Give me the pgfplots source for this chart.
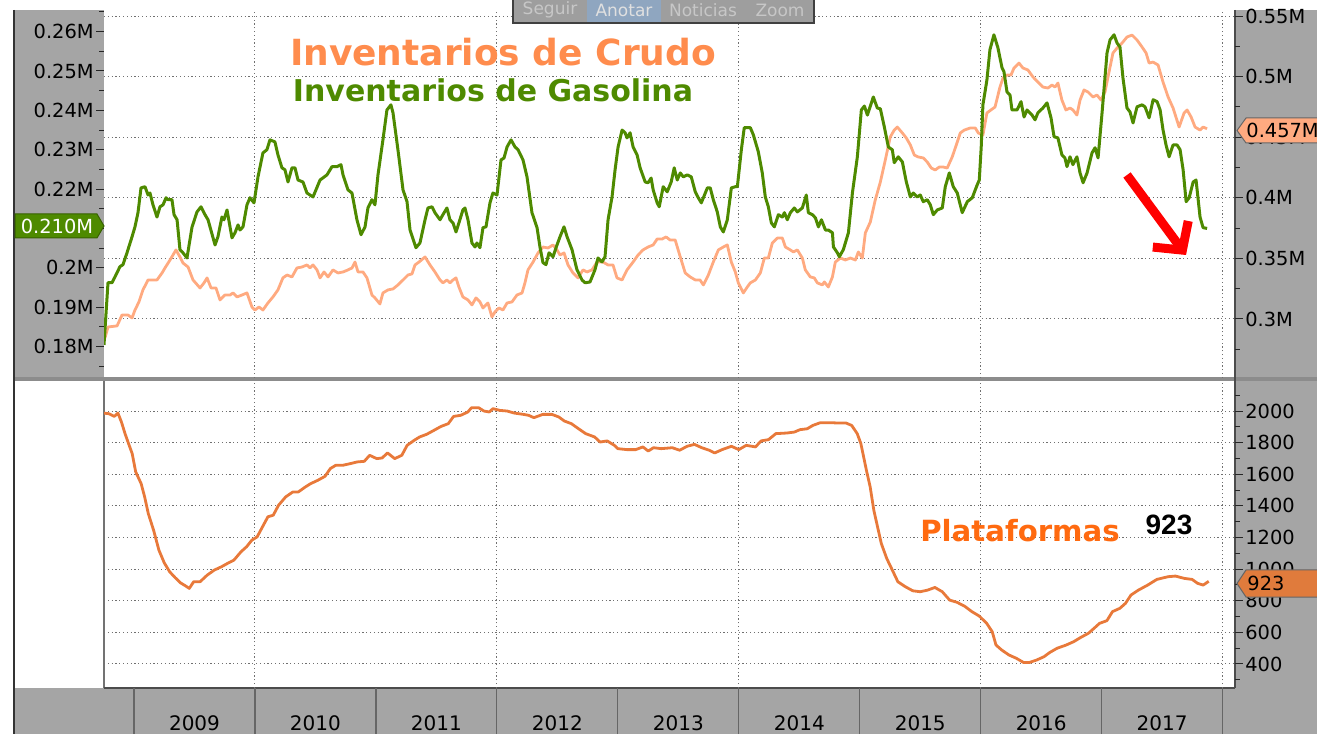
\documentclass[border=0pt]{standalone}
\usepackage{pgfplots}
\usepackage{pgfplotstable}
\pgfplotsset{compat=1.18}
\usepackage{fontspec}
\setmainfont{DejaVu Sans}
\newfontfamily\libsans{Liberation Sans}
\usetikzlibrary{arrows.meta}
\definecolor{bandgray}{HTML}{A5A5A5}
\definecolor{gasgreen}{HTML}{4E8A00}
\definecolor{crudeor}{HTML}{FFAA80}
\definecolor{rigor}{HTML}{E8793A}
\definecolor{titleor}{HTML}{FF8C4D}
\definecolor{platcol}{HTML}{FF6A10}
\definecolor{gridc}{HTML}{707070}
\definecolor{boxrig}{HTML}{E07B3C}
\definecolor{toolblue}{HTML}{8FA6C0}

\pgfplotstableread{
year v
2008.752 0.1804
2008.785 0.1962
2008.818 0.1962
2008.843 0.1977
2008.884 0.2003
2008.909 0.2008
2008.942 0.2038
2008.984 0.2079
2009.008 0.2104
2009.033 0.2140
2009.058 0.2203
2009.091 0.2206
2009.116 0.2185
2009.132 0.2190
2009.157 0.2160
2009.190 0.2129
2009.215 0.2155
2009.240 0.2160
2009.265 0.2178
2009.281 0.2173
2009.314 0.2173
2009.331 0.2135
2009.356 0.2122
2009.380 0.2046
2009.405 0.2038
2009.438 0.2025
2009.480 0.2104
2009.521 0.2142
2009.554 0.2155
2009.587 0.2135
2009.612 0.2122
2009.670 0.2058
2009.694 0.2079
2009.727 0.2129
2009.744 0.2122
2009.769 0.2147
2009.810 0.2076
2009.835 0.2089
2009.860 0.2109
2009.876 0.2096
2009.901 0.2104
2009.934 0.2160
2009.959 0.2178
2009.992 0.2165
2010.025 0.2231
2010.066 0.2292
2010.099 0.2300
2010.124 0.2325
2010.165 0.2320
2010.190 0.2287
2010.223 0.2254
2010.248 0.2249
2010.273 0.2218
2010.306 0.2254
2010.331 0.2254
2010.356 0.2223
2010.397 0.2218
2010.430 0.2190
2010.480 0.2180
2010.538 0.2223
2010.595 0.2236
2010.637 0.2257
2010.678 0.2257
2010.711 0.2262
2010.728 0.2236
2010.769 0.2198
2010.802 0.2190
2010.843 0.2122
2010.877 0.2084
2010.910 0.2104
2010.934 0.2152
2010.967 0.2173
2010.992 0.2160
2011.017 0.2236
2011.058 0.2325
2011.091 0.2401
2011.124 0.2414
2011.141 0.2394
2011.182 0.2300
2011.224 0.2198
2011.257 0.2168
2011.282 0.2096
2011.331 0.2051
2011.364 0.2063
2011.406 0.2122
2011.430 0.2152
2011.464 0.2155
2011.488 0.2140
2011.530 0.2122
2011.554 0.2135
2011.587 0.2152
2011.612 0.2122
2011.637 0.2114
2011.662 0.2091
2011.686 0.2114
2011.719 0.2147
2011.736 0.2152
2011.761 0.2122
2011.794 0.2063
2011.819 0.2053
2011.835 0.2063
2011.860 0.2051
2011.885 0.2102
2011.910 0.2104
2011.943 0.2165
2011.967 0.2190
2012.001 0.2185
2012.034 0.2274
2012.059 0.2279
2012.084 0.2307
2012.117 0.2325
2012.150 0.2307
2012.175 0.2300
2012.216 0.2274
2012.249 0.2231
2012.290 0.2140
2012.332 0.2102
2012.356 0.2053
2012.381 0.2013
2012.406 0.2008
2012.431 0.2038
2012.464 0.2028
2012.497 0.2058
2012.522 0.2079
2012.555 0.2104
2012.580 0.2079
2012.621 0.2046
2012.662 0.1995
2012.704 0.1969
2012.729 0.1962
2012.770 0.1964
2012.811 0.1995
2012.836 0.2025
2012.869 0.2015
2012.894 0.2028
2012.919 0.2122
2012.952 0.2180
2012.977 0.2249
2013.002 0.2307
2013.035 0.2350
2013.060 0.2343
2013.076 0.2330
2013.101 0.2343
2013.126 0.2307
2013.159 0.2287
2013.184 0.2254
2013.226 0.2218
2013.250 0.2216
2013.275 0.2228
2013.292 0.2198
2013.325 0.2165
2013.342 0.2155
2013.375 0.2206
2013.408 0.2193
2013.441 0.2218
2013.466 0.2254
2013.491 0.2223
2013.516 0.2241
2013.541 0.2231
2013.574 0.2236
2013.607 0.2231
2013.640 0.2193
2013.665 0.2178
2013.690 0.2165
2013.707 0.2178
2013.740 0.2203
2013.764 0.2203
2013.789 0.2173
2013.822 0.2142
2013.847 0.2104
2013.872 0.2091
2013.905 0.2122
2013.938 0.2203
2013.971 0.2206
2013.988 0.2206
2014.021 0.2300
2014.045 0.2356
2014.095 0.2356
2014.120 0.2338
2014.161 0.2295
2014.194 0.2241
2014.219 0.2180
2014.244 0.2155
2014.269 0.2114
2014.294 0.2104
2014.327 0.2135
2014.360 0.2129
2014.377 0.2140
2014.401 0.2122
2014.426 0.2140
2014.459 0.2152
2014.484 0.2142
2014.525 0.2152
2014.558 0.2185
2014.575 0.2140
2014.608 0.2135
2014.633 0.2127
2014.658 0.2104
2014.683 0.2122
2014.716 0.2096
2014.740 0.2096
2014.774 0.2089
2014.782 0.2053
2014.815 0.2038
2014.831 0.2028
2014.864 0.2046
2014.906 0.2089
2014.939 0.2190
2014.980 0.2282
2015.013 0.2401
2015.038 0.2411
2015.063 0.2388
2015.096 0.2419
2015.112 0.2434
2015.145 0.2406
2015.170 0.2404
2015.203 0.2358
2015.236 0.2307
2015.269 0.2300
2015.285 0.2267
2015.318 0.2282
2015.352 0.2269
2015.385 0.2218
2015.418 0.2180
2015.442 0.2190
2015.475 0.2180
2015.500 0.2185
2015.525 0.2168
2015.558 0.2173
2015.583 0.2160
2015.608 0.2135
2015.641 0.2147
2015.682 0.2152
2015.707 0.2206
2015.740 0.2241
2015.773 0.2206
2015.806 0.2190
2015.847 0.2140
2015.889 0.2168
2015.930 0.2178
2015.971 0.2211
2015.988 0.2223
2016.004 0.2307
2016.018 0.2414
2016.051 0.2477
2016.076 0.2554
2016.109 0.2592
2016.142 0.2559
2016.176 0.2508
2016.192 0.2498
2016.217 0.2447
2016.242 0.2439
2016.258 0.2401
2016.300 0.2401
2016.333 0.2422
2016.358 0.2383
2016.383 0.2401
2016.424 0.2388
2016.449 0.2376
2016.473 0.2394
2016.514 0.2406
2016.548 0.2419
2016.581 0.2381
2016.606 0.2333
2016.638 0.2330
2016.671 0.2287
2016.696 0.2279
2016.713 0.2257
2016.738 0.2282
2016.762 0.2262
2016.795 0.2282
2016.821 0.2241
2016.846 0.2216
2016.879 0.2241
2016.920 0.2292
2016.945 0.2305
2016.970 0.2279
2017.003 0.2394
2017.044 0.2546
2017.069 0.2579
2017.102 0.2592
2017.127 0.2571
2017.151 0.2561
2017.176 0.2482
2017.209 0.2406
2017.234 0.2396
2017.259 0.2368
2017.292 0.2409
2017.334 0.2414
2017.358 0.2409
2017.392 0.2381
2017.425 0.2427
2017.458 0.2422
2017.483 0.2401
2017.507 0.2350
2017.532 0.2312
2017.557 0.2282
2017.590 0.2312
2017.623 0.2312
2017.648 0.2300
2017.673 0.2249
2017.698 0.2168
2017.723 0.2178
2017.756 0.2218
2017.780 0.2223
2017.813 0.2129
2017.838 0.2102
2017.871 0.2100
}\gasoline

\pgfplotstableread{
year v
2008.760 0.2843
2008.785 0.2934
2008.860 0.2943
2008.901 0.3033
2008.950 0.3033
2008.984 0.3009
2009.008 0.3074
2009.041 0.3141
2009.074 0.3240
2009.116 0.3322
2009.190 0.3322
2009.232 0.3380
2009.256 0.3421
2009.298 0.3487
2009.347 0.3570
2009.380 0.3512
2009.405 0.3462
2009.447 0.3429
2009.488 0.3322
2009.546 0.3256
2009.579 0.3298
2009.604 0.3339
2009.637 0.3256
2009.678 0.3256
2009.711 0.3157
2009.752 0.3198
2009.794 0.3198
2009.819 0.3215
2009.852 0.3182
2009.893 0.3198
2009.934 0.3215
2009.975 0.3099
2010.000 0.3074
2010.033 0.3099
2010.066 0.3074
2010.107 0.3132
2010.149 0.3182
2010.190 0.3240
2010.231 0.3339
2010.265 0.3363
2010.306 0.3347
2010.347 0.3421
2010.389 0.3429
2010.430 0.3446
2010.455 0.3421
2010.480 0.3446
2010.513 0.3405
2010.538 0.3339
2010.571 0.3388
2010.604 0.3347
2010.645 0.3405
2010.686 0.3380
2010.728 0.3388
2010.769 0.3405
2010.802 0.3421
2010.827 0.3470
2010.852 0.3388
2010.893 0.3388
2010.926 0.3339
2010.967 0.3198
2010.992 0.3174
2011.033 0.3124
2011.058 0.3215
2011.100 0.3240
2011.141 0.3248
2011.182 0.3281
2011.224 0.3322
2011.265 0.3363
2011.298 0.3372
2011.323 0.3446
2011.356 0.3470
2011.406 0.3512
2011.447 0.3446
2011.488 0.3388
2011.530 0.3322
2011.554 0.3298
2011.587 0.3322
2011.612 0.3298
2011.637 0.3322
2011.662 0.3339
2011.686 0.3264
2011.719 0.3182
2011.761 0.3157
2011.794 0.3116
2011.827 0.3174
2011.860 0.3141
2011.885 0.3091
2011.926 0.3132
2011.959 0.3017
2011.984 0.3058
2012.017 0.3091
2012.050 0.3074
2012.084 0.3132
2012.125 0.3141
2012.166 0.3198
2012.208 0.3215
2012.232 0.3298
2012.257 0.3405
2012.299 0.3470
2012.340 0.3545
2012.381 0.3594
2012.423 0.3586
2012.464 0.3611
2012.497 0.3570
2012.522 0.3528
2012.555 0.3545
2012.588 0.3446
2012.629 0.3380
2012.671 0.3339
2012.712 0.3405
2012.745 0.3388
2012.786 0.3405
2012.828 0.3470
2012.877 0.3470
2012.919 0.3446
2012.960 0.3446
2012.993 0.3339
2013.035 0.3322
2013.076 0.3405
2013.126 0.3470
2013.167 0.3528
2013.208 0.3570
2013.250 0.3594
2013.292 0.3611
2013.325 0.3660
2013.366 0.3660
2013.399 0.3677
2013.432 0.3652
2013.474 0.3652
2013.516 0.3512
2013.557 0.3380
2013.598 0.3347
2013.640 0.3322
2013.679 0.3322
2013.707 0.3281
2013.748 0.3363
2013.789 0.3470
2013.831 0.3570
2013.872 0.3594
2013.905 0.3611
2013.938 0.3470
2013.971 0.3388
2013.996 0.3298
2014.037 0.3215
2014.070 0.3264
2014.095 0.3298
2014.137 0.3322
2014.178 0.3380
2014.211 0.3503
2014.244 0.3503
2014.277 0.3627
2014.319 0.3668
2014.360 0.3668
2014.385 0.3594
2014.426 0.3570
2014.451 0.3553
2014.484 0.3570
2014.525 0.3503
2014.550 0.3405
2014.591 0.3347
2014.624 0.3339
2014.649 0.3298
2014.691 0.3281
2014.707 0.3306
2014.740 0.3264
2014.774 0.3347
2014.798 0.3470
2014.840 0.3503
2014.881 0.3487
2014.922 0.3503
2014.964 0.3487
2014.988 0.3553
2015.021 0.3503
2015.046 0.3710
2015.087 0.3800
2015.128 0.3982
2015.170 0.4130
2015.211 0.4312
2015.252 0.4502
2015.285 0.4559
2015.310 0.4584
2015.352 0.4535
2015.385 0.4493
2015.418 0.4436
2015.451 0.4353
2015.484 0.4337
2015.525 0.4329
2015.558 0.4295
2015.591 0.4246
2015.624 0.4230
2015.657 0.4254
2015.690 0.4254
2015.723 0.4246
2015.764 0.4337
2015.798 0.4436
2015.831 0.4535
2015.864 0.4559
2015.913 0.4576
2015.955 0.4576
2015.980 0.4535
2016.018 0.4518
2016.051 0.4700
2016.084 0.4725
2016.118 0.4749
2016.159 0.4914
2016.184 0.4989
2016.217 0.5013
2016.250 0.5013
2016.275 0.5071
2016.316 0.5112
2016.349 0.5071
2016.390 0.5055
2016.432 0.4997
2016.473 0.4955
2016.514 0.4914
2016.556 0.4906
2016.589 0.4931
2016.614 0.4914
2016.638 0.4947
2016.671 0.4807
2016.704 0.4725
2016.738 0.4741
2016.762 0.4725
2016.795 0.4683
2016.821 0.4807
2016.854 0.4890
2016.887 0.4873
2016.928 0.4832
2016.961 0.4848
2016.994 0.4807
2017.027 0.4873
2017.052 0.4997
2017.093 0.5195
2017.127 0.5236
2017.168 0.5277
2017.209 0.5327
2017.251 0.5343
2017.292 0.5302
2017.334 0.5244
2017.367 0.5195
2017.392 0.5112
2017.425 0.5120
2017.466 0.5096
2017.507 0.4955
2017.549 0.4832
2017.590 0.4741
2017.640 0.4584
2017.681 0.4700
2017.706 0.4725
2017.739 0.4667
2017.772 0.4584
2017.813 0.4559
2017.838 0.4584
2017.871 0.4570
}\crude

\pgfplotstableread{
year v
2008.749 1987
2008.793 1983
2008.837 1966
2008.867 1987
2008.896 1931
2008.926 1857
2008.955 1794
2008.985 1731
2009.014 1615
2009.059 1541
2009.088 1457
2009.118 1352
2009.162 1246
2009.206 1120
2009.250 1040
2009.295 983
2009.339 947
2009.383 914
2009.428 893
2009.457 878
2009.493 920
2009.546 920
2009.605 962
2009.664 994
2009.723 1015
2009.782 1040
2009.826 1057
2009.885 1110
2009.930 1141
2009.974 1183
2010.018 1204
2010.062 1267
2010.107 1331
2010.151 1341
2010.195 1404
2010.254 1457
2010.313 1488
2010.358 1488
2010.417 1520
2010.461 1541
2010.520 1562
2010.579 1587
2010.623 1636
2010.668 1657
2010.727 1657
2010.786 1667
2010.845 1678
2010.904 1682
2010.948 1720
2011.007 1699
2011.051 1703
2011.096 1735
2011.155 1699
2011.214 1720
2011.258 1783
2011.317 1815
2011.361 1836
2011.420 1853
2011.480 1878
2011.539 1903
2011.598 1920
2011.642 1966
2011.701 1973
2011.760 1994
2011.790 2021
2011.849 2021
2011.893 2000
2011.937 1994
2011.967 2015
2012.026 2004
2012.085 2000
2012.144 1987
2012.218 1979
2012.262 1973
2012.306 1958
2012.380 1979
2012.454 1979
2012.513 1962
2012.557 1937
2012.616 1920
2012.675 1888
2012.734 1857
2012.808 1836
2012.853 1804
2012.912 1811
2012.971 1783
2013.000 1762
2013.074 1756
2013.148 1756
2013.207 1773
2013.251 1747
2013.295 1768
2013.358 1762
2013.450 1768
2013.511 1752
2013.572 1777
2013.633 1789
2013.694 1768
2013.755 1752
2013.801 1735
2013.862 1756
2013.939 1777
2014.000 1756
2014.061 1783
2014.138 1773
2014.184 1811
2014.245 1819
2014.306 1857
2014.398 1861
2014.459 1867
2014.505 1882
2014.566 1888
2014.612 1909
2014.673 1926
2014.765 1926
2014.826 1924
2014.887 1924
2014.933 1909
2014.979 1857
2015.009 1794
2015.055 1625
2015.086 1520
2015.116 1373
2015.147 1267
2015.178 1162
2015.223 1067
2015.269 994
2015.315 920
2015.376 889
2015.438 863
2015.499 857
2015.560 867
2015.621 884
2015.682 857
2015.743 804
2015.804 790
2015.866 766
2015.927 731
2015.988 703
2016.049 657
2016.095 604
2016.126 520
2016.172 489
2016.233 457
2016.294 436
2016.355 409
2016.401 409
2016.462 425
2016.523 446
2016.569 472
2016.630 499
2016.707 520
2016.768 541
2016.829 569
2016.890 594
2016.936 625
2016.982 657
2017.043 674
2017.089 731
2017.150 752
2017.196 783
2017.242 836
2017.303 867
2017.380 899
2017.456 935
2017.548 952
2017.609 956
2017.686 941
2017.747 935
2017.793 910
2017.839 899
2017.885 923
}\rigs

\pgfplotsset{
  common/.style={
    scale only axis, anchor=south west, width=565.5pt,
    xmin=2008.752, xmax=2018.102,
    axis line style={draw=none},
    tick align=outside, major tick length=4pt, minor tick length=2.5pt,
    tick style={black!85, line width=0.5pt},
    tick label style={font=\fontsize{9.7}{11}\selectfont, black, inner sep=1pt},
    grid style={gridc, line width=0.5pt, dash pattern=on 0.6pt off 1.3pt},
    clip=true,
  }
}

\begin{document}
\begin{tikzpicture}
\useasboundingbox (0,0) rectangle (658.5pt,367pt);
% background decoration in pixel units
\begin{scope}[x=0.5pt,y=-0.5pt,shift={(0pt,367pt)}]
  \fill[bandgray] (14,10) rectangle (104,378);
  \fill[bandgray] (1235,10) rectangle (1317,688);
  \fill[bandgray] (14,688) rectangle (1317,734);
  \fill[black!45] (14,377.5) rectangle (1317,381);
  \draw[black!80, line width=1pt] (13.5,10) -- (13.5,734);
  \draw[black!70, line width=0.7pt] (1235,10) -- (1235,688);
  \draw[black!55, line width=0.6pt] (104,381) -- (104,688);
  \draw[black!70, line width=0.7pt] (104,688) -- (1235,688);
  \foreach \k in {0,...,9} \draw[black!60, line width=0.6pt] ({134+120.96*\k},688) -- ({134+120.96*\k},734);
\end{scope}

% top panel: crude (right axis)
\begin{axis}[common,
  at={(52pt,178pt)}, height=184pt,
  ymin=0.2513, ymax=0.5550,
  xtick={2010,2012,2014,2016,2018}, xticklabels={}, xtick style={draw=none}, xmajorgrids,
  ytick={0.3,0.35,0.4,0.45,0.5,0.55},
  yticklabels={0.3M,0.35M,0.4M,0.45M,0.5M,0.55M},
  minor ytick={0.275,0.325,0.375,0.425,0.475,0.525},
  ytick pos=right, yticklabel pos=right, ymajorgrids,
]
\addplot[crudeor, line width=1.4pt, line join=round] table[x=year,y=v]{\crude};
\end{axis}

% top panel: gasoline (left axis)
\begin{axis}[common,
  at={(52pt,178pt)}, height=184pt,
  ymin=0.1720, ymax=0.2655,
  xtick=\empty,
  ytick={0.18,0.19,0.20,0.21,0.22,0.23,0.24,0.25,0.26},
  yticklabels={0.18M,0.19M,0.2M,{},0.22M,0.23M,0.24M,0.25M,0.26M},
  minor ytick={0.175,0.185,0.195,0.205,0.215,0.225,0.235,0.245,0.255,0.265},
  ytick pos=left, yticklabel pos=left,
]
\addplot[gasgreen, line width=1.5pt, line join=round] table[x=year,y=v]{\gasoline};
\end{axis}

% bottom panel: rigs
\begin{axis}[common,
  at={(52pt,23pt)}, height=153.5pt,
  ymin=248, ymax=2190,
  xtick={2010,2012,2014,2016,2018}, xticklabels={}, xtick style={draw=none}, xmajorgrids,
  extra x ticks={2009.5,2010.5,2011.5,2012.5,2013.5,2014.5,2015.5,2016.5,2017.5},
  extra x tick labels={2009,2010,2011,2012,2013,2014,2015,2016,2017},
  extra x tick style={grid=none, tick style={draw=none}, xticklabel style={yshift=-8.5pt, font=\fontsize{10}{12}\selectfont}},
  ytick={400,600,800,1000,1200,1400,1600,1800,2000},
  yticklabels={400,600,800,1000,1200,1400,1600,1800,2000},
  minor ytick={300,500,700,900,1100,1300,1500,1700,1900,2100},
  ytick pos=right, yticklabel pos=right, ymajorgrids,
]
\addplot[rigor, line width=1.4pt, line join=round] table[x=year,y=v]{\rigs};
\end{axis}

% annotations in pixel units
\begin{scope}[x=0.5pt,y=-0.5pt,shift={(0pt,367pt)}]
  % toolbar remnant
  \begin{scope}
    \clip (513,0) rectangle (814,23);
    \fill[black!38] (513,0) rectangle (814,23);
    \fill[toolblue] (587,0) rectangle (661,23);
    \node[black!22, font=\fontsize{8.5}{10}\selectfont] at (550,10) {Seguir};
    \node[black!12, font=\fontsize{8.5}{10}\selectfont] at (624,10) {Anotar};
    \node[black!22, font=\fontsize{8.5}{10}\selectfont] at (703,10) {Noticias};
    \node[black!22, font=\fontsize{8.5}{10}\selectfont] at (780,10) {Zoom};
  \end{scope}
  \draw[black!75, line width=0.7pt] (513,0) -- (513,23) -- (814,23) -- (814,0);
  % titles
  \node[titleor, font=\bfseries\fontsize{18}{20}\selectfont] at (503,52) {Inventarios de Crudo};
  \node[gasgreen, font=\bfseries\fontsize{15}{17}\selectfont] at (493,90) {Inventarios de Gasolina};
  \node[platcol, font=\bfseries\fontsize{14.6}{16}\selectfont] at (1020,531) {Plataformas};
  \node[black, font=\libsans\bfseries\fontsize{14}{16}\selectfont] at (1169,525) {923};
  % value boxes
  \filldraw[fill=gasgreen, draw=gasgreen!70!black, line width=0.5pt] (15,214) -- (97,214) -- (104,226) -- (97,238) -- (15,238) -- cycle;
  \node[white, font=\fontsize{9.7}{11}\selectfont] at (57,226) {0.210M};
  \filldraw[fill=crudeor, draw=black!60, line width=0.5pt] (1317,118) -- (1246,118) -- (1237,130.5) -- (1246,143) -- (1317,143);
  \node[black, font=\fontsize{9.7}{11}\selectfont, anchor=west, inner sep=0pt] at (1246,130.5) {0.457M};
  \filldraw[fill=boxrig, draw=black!60, line width=0.5pt] (1317,570) -- (1246,570) -- (1237,583.5) -- (1246,597) -- (1317,597);
  \node[black, font=\fontsize{9.7}{11}\selectfont, anchor=west, inner sep=0pt] at (1247,583.5) {923};
  % red arrow
  \draw[red, line width=4.5pt, -{Straight Barb[length=10pt,width=22pt,line width=4.5pt]}] (1127,175) -- (1186,255);
\end{scope}
\end{tikzpicture}
\end{document}
